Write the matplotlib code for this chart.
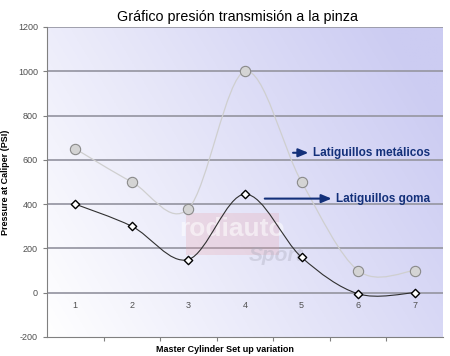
"""
Gráfico presión transmisión a la pinza - pressure at caliper per master cylinder setup.
"""
import numpy as np
import matplotlib
matplotlib.use("Agg")
import matplotlib.pyplot as plt
from matplotlib.path import Path
from matplotlib.patches import PathPatch, Rectangle

plt.rcParams["font.family"] = ["Liberation Sans", "DejaVu Sans"]

setups = [1, 2, 3, 4, 5, 6, 7]
metalicos = [650, 500, 380, 1000, 500, 100, 100]
goma = [400, 300, 150, 445, 160, -5, 0]
y_ticks = [-200, 0, 200, 400, 600, 800, 1000, 1200]


def smooth_path(xs, ys, k=1 / 6):
    # Bezier segments (Catmull-Rom style), like Excel "smoothed line"
    xs = np.asarray(xs, float)
    ys = np.asarray(ys, float)
    verts = [(xs[0], ys[0])]
    codes = [Path.MOVETO]
    n = len(xs)
    for i in range(n - 1):
        p0 = i - 1 if i > 0 else i
        p3 = i + 2 if i + 2 < n else i + 1
        c1 = (xs[i] + (xs[i + 1] - xs[p0]) * k, ys[i] + (ys[i + 1] - ys[p0]) * k)
        c2 = (xs[i + 1] - (xs[p3] - xs[i]) * k, ys[i + 1] - (ys[p3] - ys[i]) * k)
        verts += [c1, c2, (xs[i + 1], ys[i + 1])]
        codes += [Path.CURVE4] * 3
    return Path(verts, codes)


fig = plt.figure(figsize=(4.5, 3.56), dpi=100)
ax = fig.add_axes([47 / 450, 1 - 337 / 356, 396 / 450, 310 / 356])
ax.set_xlim(0.5, 7.5)
ax.set_ylim(-200, 1200)

# background gradient (white top-left -> lavender bottom-right)
gx = np.linspace(0, 1, 200)
gy = np.linspace(0, 1, 200)
GX, GY = np.meshgrid(gx, gy)
t = np.clip(0.75 * GX + 0.35 * GY, 0, 1)
c0 = np.array([1.0, 1.0, 1.0])
c1 = np.array([0.80, 0.80, 0.95])
img = c0 + (c1 - c0) * t[..., None]
ax.imshow(img, extent=[0.5, 7.5, 1200, -200], aspect="auto", zorder=0)

for yv in y_ticks[1:]:
    ax.axhline(yv, color="#9a9aa6", lw=1.3, zorder=1)

# faint watermark logo
ax.add_patch(Rectangle((2.95, 170), 1.65, 190, fc="#e8a0a8", ec="none", alpha=0.25, zorder=1.5))
ax.text(3.78, 290, "rodiauto", fontsize=19, fontweight="bold", color="white", alpha=0.55,
        ha="center", va="center", zorder=1.6)
ax.text(4.55, 170, "Sport", fontsize=15, style="italic", fontweight="bold", color="#a8a8b8",
        alpha=0.35, ha="center", va="center", zorder=1.6)

ax.add_patch(PathPatch(smooth_path(setups, metalicos), fc="none", ec="#cfcfcf", lw=0.9, zorder=3))
ax.add_patch(PathPatch(smooth_path(setups, goma), fc="none", ec="#303030", lw=0.8, zorder=3))

ax.scatter(setups, metalicos, s=55, marker="o", facecolor="#d4d4d4", edgecolor="#8a8a8a",
           linewidth=0.8, zorder=4)
ax.scatter(setups, goma, s=18, marker="D", facecolor="white", edgecolor="black",
           linewidth=1.0, zorder=4)

ax.set_xticks([x + 0.5 for x in setups[:-1]])
ax.set_xticklabels([])
ax.tick_params(axis="x", length=3, color="#808080", direction="out")
for x in setups:
    ax.text(x, -60, str(x), ha="center", va="center", fontsize=6.5, color="#505050")
ax.set_yticks(y_ticks)
ax.set_yticklabels([str(v) for v in y_ticks], fontsize=6.5, color="#505050")
ax.tick_params(axis="y", length=3, color="#808080")

for s in ["top", "right"]:
    ax.spines[s].set_visible(False)
ax.spines["left"].set_color("#808080")
ax.spines["bottom"].set_color("#808080")

ax.set_ylabel("Pressure at Caliper (PSI)", fontsize=6.5, fontweight="bold", labelpad=6)
fig.text(0.5, 1 - 350 / 356, "Master Cylinder Set up variation", ha="center", va="center",
         fontsize=6.5, fontweight="bold")
fig.text(238 / 450, 1 - 17 / 356, "Gráfico presión transmisión a la pinza", ha="center",
         va="center", fontsize=10.3)

blue = "#13307a"
ax.annotate("", xy=(5.17, 632), xytext=(4.80, 632),
            arrowprops=dict(arrowstyle="-|>,head_length=0.6,head_width=0.25", color=blue, lw=1.5))
ax.text(5.2, 632, "Latiguillos metálicos", color=blue, fontsize=8.5, fontweight="bold",
        va="center", ha="left")
ax.annotate("", xy=(5.58, 425), xytext=(4.30, 425),
            arrowprops=dict(arrowstyle="-|>,head_length=0.6,head_width=0.25", color=blue, lw=1.5))
ax.text(5.6, 425, "Latiguillos goma", color=blue, fontsize=8.5, fontweight="bold",
        va="center", ha="left")

fig.savefig("out.png", dpi=100)
